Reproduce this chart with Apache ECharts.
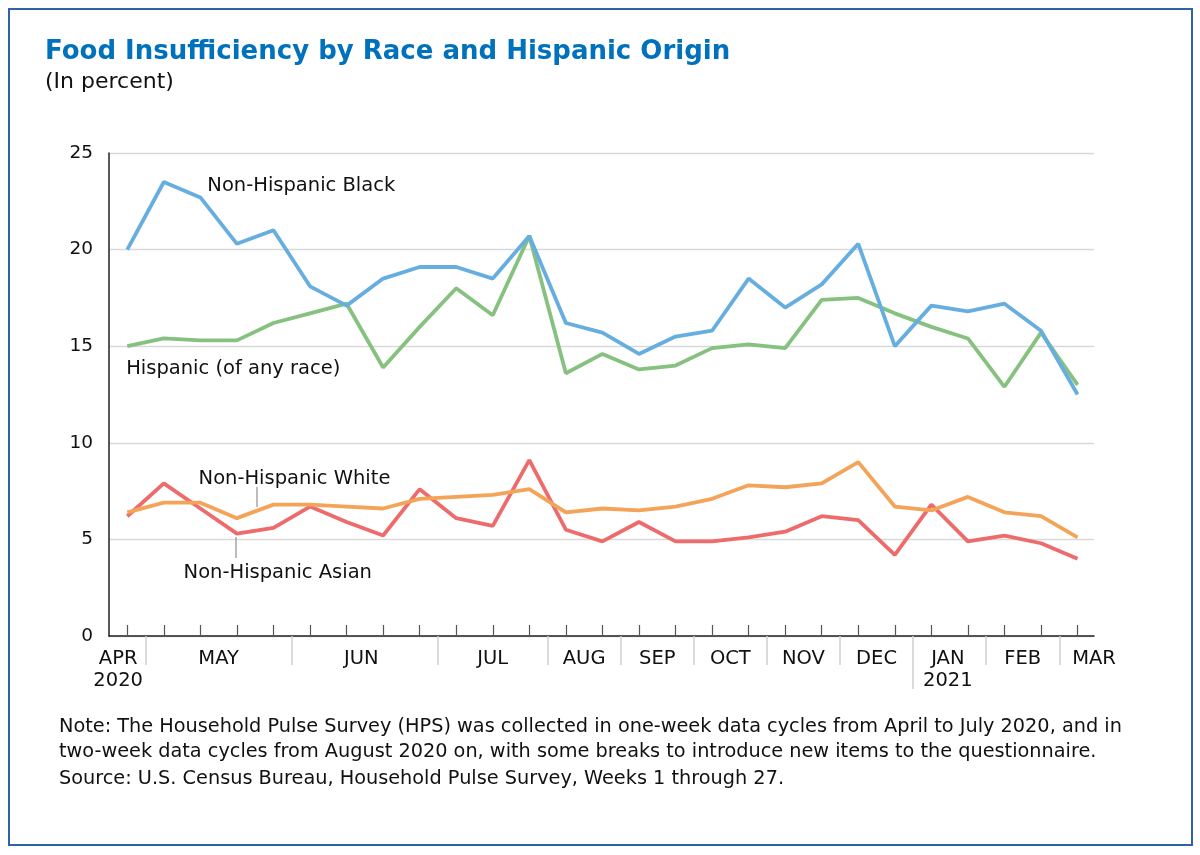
<!DOCTYPE html>
<html>
<head>
<meta charset="utf-8">
<script src="https://cdn.jsdelivr.net/npm/echarts@6/dist/echarts.min.js"></script>
<style>
  html, body { margin: 0; padding: 0; background: #fff; }
  #main { width: 1200px; height: 855px; }
</style>
</head>
<body>
<div id="main"></div>
<script>
// survey weeks 1..27, evenly spaced on the x axis
var weeks = [1, 2, 3, 4, 5, 6, 7, 8, 9, 10, 11, 12, 13, 14, 15, 16, 17, 18, 19, 20, 21, 22, 23, 24, 25, 26, 27];

var black    = [20.0, 23.5, 22.7, 20.3, 21.0, 18.1, 17.1, 18.5, 19.1, 19.1, 18.5, 20.7, 16.2, 15.7, 14.6, 15.5, 15.8, 18.5, 17.0, 18.2, 20.3, 15.0, 17.1, 16.8, 17.2, 15.8, 12.5];
var hispanic = [15.0, 15.4, 15.3, 15.3, 16.2, 16.7, 17.2, 13.9, 16.0, 18.0, 16.6, 20.7, 13.6, 14.6, 13.8, 14.0, 14.9, 15.1, 14.9, 17.4, 17.5, 16.7, 16.0, 15.4, 12.9, 15.7, 13.0];
var white    = [6.4, 6.9, 6.9, 6.1, 6.8, 6.8, 6.7, 6.6, 7.1, 7.2, 7.3, 7.6, 6.4, 6.6, 6.5, 6.7, 7.1, 7.8, 7.7, 7.9, 9.0, 6.7, 6.5, 7.2, 6.4, 6.2, 5.1];
var asian    = [6.2, 7.9, 6.6, 5.3, 5.6, 6.7, 5.9, 5.2, 7.6, 6.1, 5.7, 9.1, 5.5, 4.9, 5.9, 4.9, 4.9, 5.1, 5.4, 6.2, 6.0, 4.2, 6.8, 4.9, 5.2, 4.8, 4.0];

// month labels, placed in week-index units
var monthNames = ['APR\n2020', 'MAY', 'JUN', 'JUL', 'AUG', 'SEP', 'OCT', 'NOV', 'DEC', 'JAN\n2021', 'FEB', 'MAR'];
var monthAt    = [-0.25, 2.5, 6.4, 10, 12.5, 14.5, 16.5, 18.5, 20.5, 22.45, 24.5, 26.45];
// month boundaries between survey points
var monthBreaks = [0.5, 4.5, 8.5, 11.5, 13.5, 15.5, 17.5, 19.5, 23.5, 25.5];
var yearBreak = [21.5];

var yTicks = [0, 5, 10, 15, 20, 25];

var FONT = '"DejaVu Sans", "Noto Sans", sans-serif';
var X_MIN = -0.5, X_MAX = 26.45;

function pairs(arr) {
    return arr.map(function (v, i) { return [i, v]; });
}

function note(text, coord, color) {
    return {
        symbol: 'circle', symbolSize: 0, silent: true,
        data: [{ coord: coord, value: text }],
        label: {
            show: true, position: 'right', distance: 0,
            formatter: '{c}', color: color, fontSize: 19.5, fontFamily: FONT
        }
    };
}

function leader(from, to) {
    return {
        silent: true, symbol: 'none', animation: false,
        lineStyle: { color: '#a6a6a6', width: 1.5, type: 'solid' },
        label: { show: false },
        data: [[{ coord: from }, { coord: to }]]
    };
}

var chart = echarts.init(document.getElementById('main'));

var option = {
    backgroundColor: '#fff',
    animation: false,
    textStyle: { fontFamily: FONT },
    grid: { left: 109, right: 106, top: 153, bottom: 219 },
    graphic: [
        {
            type: 'rect', silent: true,
            shape: { x: 9, y: 9, width: 1183, height: 836 },
            style: { fill: 'none', stroke: '#2d64a8', lineWidth: 2 }
        },
        {
            type: 'text', left: 45, top: 39,
            style: { text: 'Food Insufficiency by Race and Hispanic Origin', fill: '#0071bc', font: 'bold 26px ' + FONT }
        },
        {
            type: 'text', left: 45, top: 71,
            style: { text: '(In percent)', fill: '#111', font: '22px ' + FONT }
        },
        {
            type: 'text', left: 59, top: 714,
            style: {
                text: 'Note: The Household Pulse Survey (HPS) was collected in one-week data cycles from April to July 2020, and in\n' +
                      'two-week data cycles from August 2020 on, with some breaks to introduce new items to the questionnaire.',
                fill: '#111', font: '19.3px ' + FONT, lineHeight: 25
            }
        },
        {
            type: 'text', left: 59, top: 769,
            style: { text: 'Source: U.S. Census Bureau, Household Pulse Survey, Weeks 1 through 27.', fill: '#111', font: '19.3px ' + FONT }
        }
    ],
    xAxis: [
        {
            type: 'value', min: X_MIN, max: X_MAX,
            axisLine: { show: true, onZero: false, lineStyle: { color: '#222', width: 1.5 } },
            axisTick: { show: true, inside: true, length: 11, customValues: weeks.map(function (w, i) { return i; }), lineStyle: { color: '#555', width: 1.2 } },
            axisLabel: {
                show: true, customValues: monthAt, margin: 12, color: '#111', fontSize: 19.5, lineHeight: 22,
                fontFamily: FONT,
                formatter: function (v) {
                    var k = monthAt.indexOf(v);
                    return k >= 0 ? monthNames[k] : '';
                }
            },
            splitLine: { show: false }
        },
        {
            type: 'value', min: X_MIN, max: X_MAX, position: 'bottom',
            axisLine: { show: false, onZero: false },
            axisTick: { show: true, inside: false, length: 29, customValues: monthBreaks, lineStyle: { color: '#cfcfcf', width: 1.5 } },
            axisLabel: { show: false },
            splitLine: { show: false }
        },
        {
            type: 'value', min: X_MIN, max: X_MAX, position: 'bottom',
            axisLine: { show: false, onZero: false },
            axisTick: { show: true, inside: false, length: 53, customValues: yearBreak, lineStyle: { color: '#cfcfcf', width: 1.5 } },
            axisLabel: { show: false },
            splitLine: { show: false }
        }
    ],
    yAxis: {
        type: 'value', min: 0, max: 25, interval: 5,
        axisLine: { show: true, onZero: false, lineStyle: { color: '#222', width: 1.5 } },
        axisTick: { show: false },
        axisLabel: {
            margin: 16, color: '#111', fontSize: 18.5, fontFamily: FONT,
            customValues: yTicks
        },
        splitLine: { show: true, lineStyle: { color: '#d9d9d9', width: 1.3 } }
    },
    series: [
        {
            name: 'Hispanic (of any race)', type: 'line', data: pairs(hispanic),
            symbol: 'none', lineStyle: { color: '#86c17f', width: 3.8 }, z: 2,
            markPoint: note('Hispanic (of any race)', [-0.03, 13.82], '#111')
        },
        {
            name: 'Non-Hispanic Black', type: 'line', data: pairs(black),
            symbol: 'none', lineStyle: { color: '#67aee0', width: 3.8 }, z: 3,
            markPoint: note('Non-Hispanic Black', [2.19, 23.29], '#111')
        },
        {
            name: 'Non-Hispanic White', type: 'line', data: pairs(white),
            symbol: 'none', lineStyle: { color: '#f3a458', width: 3.8 }, z: 3,
            markPoint: note('Non-Hispanic White', [1.95, 8.13], '#111'),
            markLine: leader([3.53, 7.71], [3.53, 6.68])
        },
        {
            name: 'Non-Hispanic Asian', type: 'line', data: pairs(asian),
            symbol: 'none', lineStyle: { color: '#ee6b6b', width: 3.8 }, z: 2,
            markPoint: note('Non-Hispanic Asian', [1.54, 3.28], '#111'),
            markLine: leader([2.98, 5.12], [2.98, 4.04])
        }
    ]
};

chart.setOption(option);
</script>
</body>
</html>
